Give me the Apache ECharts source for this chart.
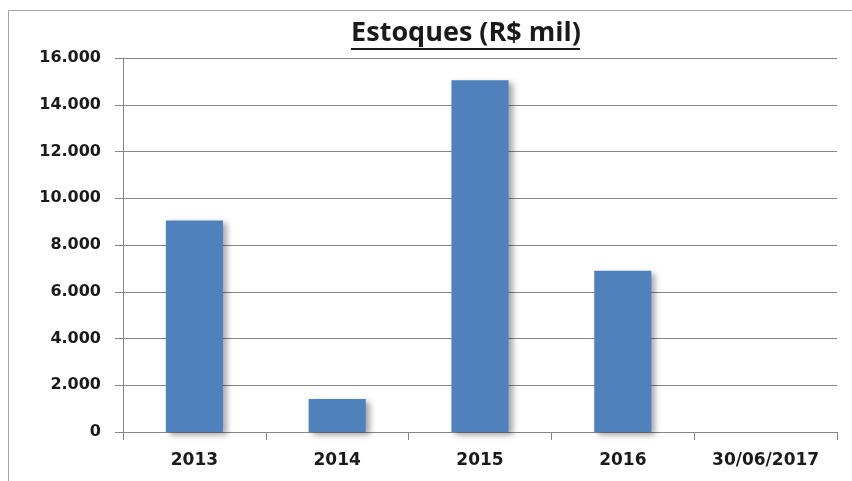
<!DOCTYPE html>
<html>
<head>
<meta charset="utf-8">
<script src="https://cdn.jsdelivr.net/npm/echarts@6/dist/echarts.min.js"></script>
<style>
  html, body { margin: 0; padding: 0; background: #fff; }
  #main { width: 852px; height: 481px; }
</style>
</head>
<body>
<div id="main"></div>
<script>
// dados do gráfico
const categorias = ["2013", "2014", "2015", "2016", "30/06/2017"];
const estoques = [9050, 1410, 15050, 6900, 0];
const tituloTexto = "Estoques (R$ mil)";

const chart = echarts.init(document.getElementById("main"));

// formata 16000 -> 16.000
function milhar(v) {
  return String(v).replace(/\B(?=(\d{3})+(?!\d))/g, ".");
}

const fonteEixo = "'DejaVu Sans', sans-serif";
const fonteTitulo = "'Open Sans', sans-serif";

const option = {
  animation: false,
  grid: { left: 123, right: 15, top: 58, bottom: 49 },
  graphic: [
    {
      type: "rect",
      silent: true,
      shape: { x: 8.5, y: 10.5, width: 900, height: 600 },
      style: { fill: "none", stroke: "#a6a6a6", lineWidth: 1 },
    },
    {
      type: "text",
      style: {
        x: 466, y: 33,
        text: tituloTexto,
        textAlign: "center",
        textVerticalAlign: "middle",
        font: "bold 27px " + fonteTitulo,
        fill: "#1a1a1a",
      },
    },
    {
      type: "line",
      shape: { x1: 351, y1: 49, x2: 580, y2: 49 },
      style: { stroke: "#1a1a1a", lineWidth: 2 },
    },
  ],
  xAxis: {
    type: "category",
    data: categorias,
    axisLine: { lineStyle: { color: "#868686", width: 1 } },
    axisTick: { show: true, length: 8, lineStyle: { color: "#868686" } },
    axisLabel: {
      margin: 20,
      color: "#1a1a1a",
      fontSize: 17,
      fontWeight: "bold",
      fontFamily: fonteEixo,
    },
  },
  yAxis: {
    type: "value",
    min: 0,
    max: 16000,
    interval: 2000,
    axisLine: { show: true, lineStyle: { color: "#868686", width: 1 } },
    axisTick: { show: true, length: 8, lineStyle: { color: "#868686" } },
    splitLine: { lineStyle: { color: "#868686", width: 1 } },
    axisLabel: {
      margin: 22,
      color: "#1a1a1a",
      fontSize: 16,
      fontWeight: "bold",
      fontFamily: fonteEixo,
      formatter: milhar,
    },
  },
  series: [
    {
      type: "bar",
      data: estoques,
      barCategoryGap: "60%",
      itemStyle: {
        color: "#4f81bd",
        shadowColor: "rgba(0,0,0,0.35)",
        shadowBlur: 6,
        shadowOffsetX: 4,
        shadowOffsetY: 3,
      },
    },
  ],
};

chart.setOption(option);
</script>
</body>
</html>
